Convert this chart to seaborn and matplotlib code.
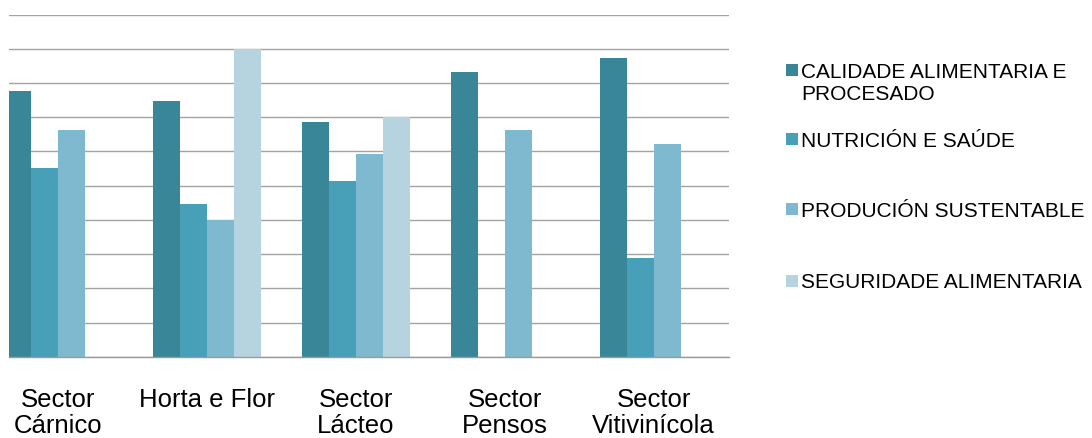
import matplotlib
matplotlib.use("Agg")
import matplotlib.pyplot as plt
from matplotlib.patches import Rectangle
import numpy as np
import pandas as pd
import seaborn as sns

# ---- data (gridline units) ----
sectors = ["Sector\nCárnico", "Horta e Flor", "Sector\nLácteo", "Sector\nPensos", "Sector\nVitivinícola"]
series = ["CALIDADE ALIMENTARIA E\nPROCESADO", "NUTRICIÓN E SAÚDE",
          "PRODUCIÓN SUSTENTABLE", "SEGURIDADE ALIMENTARIA"]
calidade = [7.77, 7.47, 6.86, 8.33, 8.74]
nutricion = [5.51, 4.47, 5.14, np.nan, 2.89]
producion = [6.64, 4.00, 5.93, 6.64, 6.22]
seguridade = [np.nan, 9.00, 7.00, np.nan, np.nan]
colors = ["#3A8699", "#47A0B8", "#7EB9CF", "#B6D4E0"]

values = [calidade, nutricion, producion, seguridade]
rows = []
for s, vals in zip(series, values):
    for sec, v in zip(sectors, vals):
        rows.append({"sector": sec, "serie": s, "value": v})
df = pd.DataFrame(rows)

W, H = 1092, 438
fig = plt.figure(figsize=(W / 100, H / 100), dpi=100)
sns.set_style("white")
plt.rcParams["font.family"] = ["Liberation Sans", "DejaVu Sans"]

ax_left, ax_right, ax_top, ax_bot = 9, 729, 14.7, 356.7
ax = fig.add_axes([ax_left / W, 1 - ax_bot / H, (ax_right - ax_left) / W, (ax_bot - ax_top) / H])

sns.barplot(data=df, x="sector", y="value", hue="serie", order=sectors, hue_order=series,
            palette=colors, saturation=1, width=0.725, errorbar=None, linewidth=0,
            ax=ax, legend=False)

ax.set_xlim(-0.330, 4.506)
ax.set_ylim(0, 10)
ax.set_yticks(np.arange(0, 11, 1))
ax.set_yticklabels([])
ax.tick_params(axis="y", length=0)
ax.set_axisbelow(True)
ax.grid(axis="y", color="#A3A3A3", linewidth=1.0)
ax.grid(axis="x", visible=False)
for sp in ["left", "right", "top"]:
    ax.spines[sp].set_visible(False)
ax.spines["bottom"].set_color("#9A9A9A")
ax.spines["bottom"].set_linewidth(1.0)

ax.set_xticks(range(len(sectors)))
ax.set_xticklabels(sectors, fontsize=18.5, color="black", linespacing=1.1)
ax.tick_params(axis="x", which="major", length=0, pad=22.5)
ax.set_xticks(np.arange(0.5, len(sectors), 1.0), minor=True)
ax.tick_params(axis="x", which="minor", length=6, width=1.0, color="#9A9A9A", direction="out")
ax.set_xlabel("")
ax.set_ylabel("")

# ---- legend (drawn manually to keep the marker aligned with the first line) ----
leg_font = 15
text_x = 801
sq_x0, sq_size = 785.5, 12
first_line_caps = [(63.3, 76.7), (131.7, 146.0), (201.7, 216.7), (273.3, 288.3)]
for lab, col, (ctop, cbase) in zip(series, colors, first_line_caps):
    fig.text(text_x / W, 1 - ctop / H, lab, fontsize=leg_font, color="black",
             va="top", ha="left")
    cy = (ctop + cbase) / 2
    fig.patches.append(Rectangle((sq_x0 / W, 1 - (cy + sq_size / 2) / H), sq_size / W, sq_size / H,
                                 transform=fig.transFigure, facecolor=col, edgecolor="none"))

fig.savefig("out.png", dpi=100)
